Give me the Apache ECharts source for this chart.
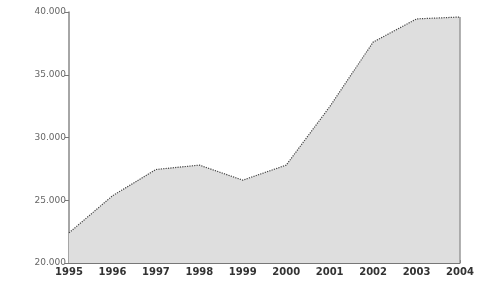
<!DOCTYPE html>
<html>
<head>
<meta charset="utf-8">
<script src="https://cdn.jsdelivr.net/npm/echarts@6/dist/echarts.min.js"></script>
<style>
html,body{margin:0;padding:0;background:#fff;}
#c{width:477px;height:285px;}
</style>
</head>
<body>
<div id="c"></div>
<script>
var years = ['1995','1996','1997','1998','1999','2000','2001','2002','2003','2004'];
var values = [22400, 25350, 27450, 27800, 26600, 27800, 32450, 37600, 39450, 39600];
var yTicks = [20000, 25000, 30000, 35000, 40000];

var chart = echarts.init(document.getElementById('c'), null, {renderer:'canvas'});
function fmt(v){ return String(v).replace(/\B(?=(\d{3})+(?!\d))/g, '.'); }
chart.setOption({
  animation:false,
  grid:{left:69, right:17, top:12, bottom:22},
  xAxis:{
    type:'category', data:years, boundaryGap:false,
    axisLine:{lineStyle:{color:'#777', width:1}},
    axisTick:{show:true, inside:true, length:3, lineStyle:{color:'#555'}},
    axisLabel:{color:'#333', fontSize:10, fontFamily:'DejaVu Sans', margin:4, fontWeight:'bold', showMaxLabel:true, showMinLabel:true, interval:0}
  },
  yAxis:{
    type:'value', min:yTicks[0], max:yTicks[yTicks.length-1], interval:5000,
    axisLine:{show:true, lineStyle:{color:'#888', width:1.5}},
    axisTick:{show:true, length:4, lineStyle:{color:'#777'}},
    splitLine:{show:false},
    axisLabel:{color:'#666', fontSize:9, fontFamily:'DejaVu Sans', margin:3, formatter:fmt}
  },
  series:[{
    type:'line', data:values, symbol:'none',
    lineStyle:{color:'#444', width:1.2, type:'dotted'},
    areaStyle:{color:'#dedede', opacity:1},
    markLine:{
      silent:true, symbol:'none', label:{show:false},
      lineStyle:{color:'#999', width:1.5, type:'solid'},
      data:[[{coord:[years[9], yTicks[0]]},{coord:[years[9], values[9]]}]]
    }
  }]
});
</script>
</body>
</html>
